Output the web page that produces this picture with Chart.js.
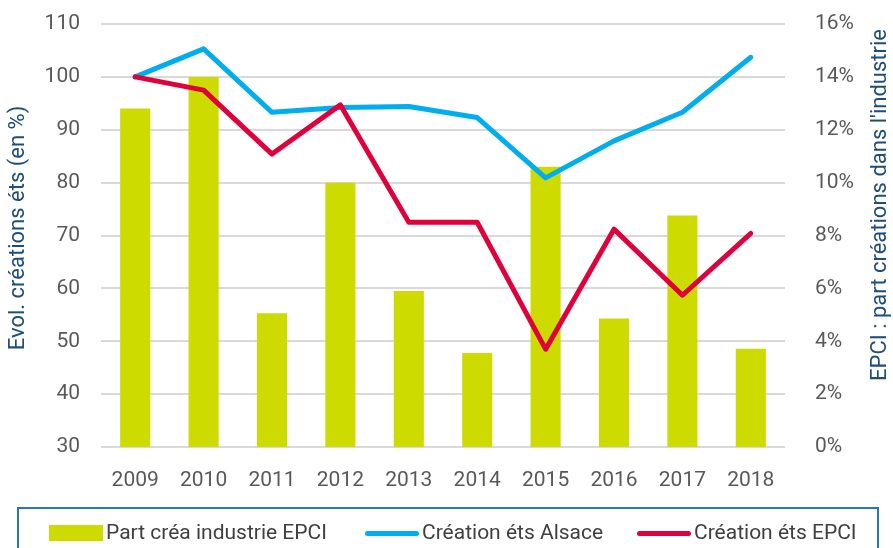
<!DOCTYPE html>
<html>
<head>
<meta charset="utf-8">
<script src="https://cdn.jsdelivr.net/npm/chart.js@4"></script>
<style>
  body{margin:0;background:#fff;font-family:Roboto,sans-serif;}
  #wrap{position:relative;width:893px;height:548px;overflow:hidden;}
  #legend{position:absolute;left:17px;top:507px;width:862px;height:60px;border:2px solid #2E75B6;box-sizing:border-box;}
  .item{position:absolute;top:11px;font-size:21px;color:#404040;line-height:24px;white-space:nowrap;}
  .sw{display:inline-block;vertical-align:middle;margin-right:3px;}
</style>
</head>
<body>
<div id="wrap">
  <canvas id="chart" width="893" height="548"></canvas>
  <div id="legend"></div>
</div>
<script>
let years = ["2009","2010","2011","2012","2013","2014","2015","2016","2017","2018"];
let partIndustrie = [0.128, 0.140, 0.0506, 0.100, 0.059, 0.0356, 0.106, 0.0486, 0.0876, 0.0372];
let creaAlsace = [100, 105.3, 93.3, 94.2, 94.4, 92.3, 80.9, 87.9, 93.3, 103.7];
let creaEpci = [100, 97.5, 85.4, 94.7, 72.5, 72.5, 48.5, 71.2, 58.7, 70.4];
let leftTitle = "Evol. créations éts (en %)";
let rightTitle = "EPCI : part créations dans l'industrie";

let green = "#CEDB00", blue = "#00AEEF", red = "#E0003C";
let tickColor = "#595959", titleColor = "#1F4E79";

// légende HTML
let legendItems = [
  {text:"Part créa industrie EPCI", color:green, bar:true, x:30},
  {text:"Création éts Alsace", color:blue, bar:false, x:346},
  {text:"Création éts EPCI", color:red, bar:false, x:618}
];
let legend = document.getElementById("legend");
legendItems.forEach(it=>{
  let d = document.createElement("div");
  d.className = "item";
  d.style.left = it.x + "px";
  let sw = it.bar
    ? `<span class="sw" style="width:54px;height:16px;background:${it.color}"></span>`
    : `<span class="sw" style="width:54px;height:5px;border-radius:3px;background:${it.color}"></span>`;
  d.innerHTML = sw + it.text;
  legend.appendChild(d);
});

// titres d'axes (lus de bas en haut)
let axisTitles = {
  id:"axisTitles",
  afterDraw(chart){
    let ctx = chart.ctx;
    ctx.save();
    ctx.font = "22px Roboto";
    ctx.fillStyle = titleColor;
    ctx.textAlign = "center";
    ctx.textBaseline = "middle";
    [[18, 228, leftTitle], [880, 205, rightTitle]].forEach(t=>{
      ctx.save();
      ctx.translate(t[0], t[1]);
      ctx.rotate(-Math.PI/2);
      ctx.fillText(t[2], 0, 0);
      ctx.restore();
    });
    ctx.restore();
  }
};

// largeur fixe des axes verticaux, sans marge haute/basse en plus
function fixWidth(w){
  return s=>{ s.width = w; s.paddingTop = 12; s.paddingBottom = 12; };
}

let ctx = document.getElementById("chart").getContext("2d");
new Chart(ctx, {
  type:"bar",
  data:{
    labels:years,
    datasets:[
      {type:"line", label:"Création éts Alsace", data:creaAlsace, yAxisID:"y", borderColor:blue, backgroundColor:blue,
        borderWidth:5, pointRadius:0, borderJoinStyle:"round", borderCapStyle:"round", order:1},
      {type:"line", label:"Création éts EPCI", data:creaEpci, yAxisID:"y", borderColor:red, backgroundColor:red,
        borderWidth:5, pointRadius:0, borderJoinStyle:"round", borderCapStyle:"round", order:0},
      {type:"bar", label:"Part créa industrie EPCI", data:partIndustrie, yAxisID:"y1", backgroundColor:green,
        categoryPercentage:1, barPercentage:0.44, order:2}
    ]
  },
  options:{
    responsive:false,
    animation:false,
    layout:{padding:{top:24, left:0, right:0, bottom:0}},
    plugins:{legend:{display:false}, tooltip:{enabled:false}},
    font:{family:"Roboto"},
    scales:{
      x:{
        grid:{display:false},
        border:{display:false},
        ticks:{color:tickColor, font:{family:"Roboto", size:21}, padding:13, maxRotation:0},
        afterFit(s){ s.height = 101; }
      },
      y:{
        position:"left", min:30, max:110,
        grid:{color:"#D9D9D9", lineWidth:2, drawTicks:false},
        border:{display:false},
        ticks:{stepSize:10, color:tickColor, font:{family:"Roboto", size:21}, padding:21},
        afterFit:fixWidth(101)
      },
      y1:{
        position:"right", min:0, max:0.16,
        grid:{display:false, drawTicks:false},
        border:{display:false},
        ticks:{stepSize:0.02, color:tickColor, font:{family:"Roboto", size:21}, padding:30,
          callback:v=>Math.round(v*100)+"%"},
        afterFit:fixWidth(108)
      }
    }
  },
  plugins:[axisTitles]
});
</script>
</body>
</html>
